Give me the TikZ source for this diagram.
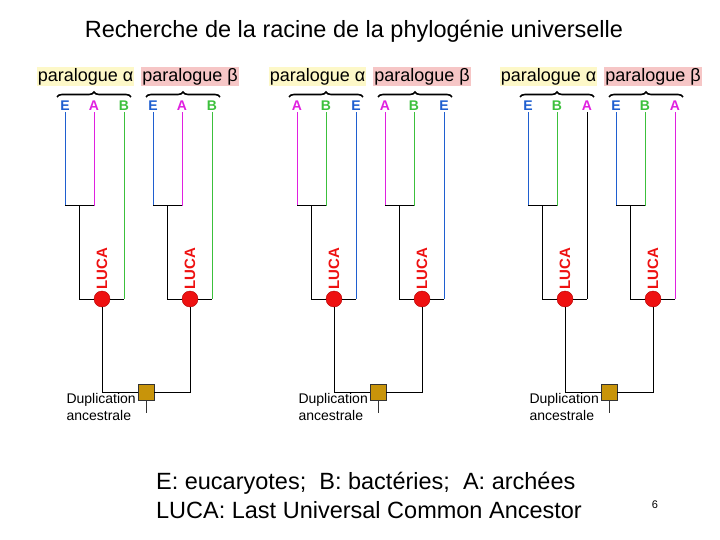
\documentclass[tikz,border=0pt]{standalone}
\usepackage{fontspec}
\setmainfont{Liberation Sans}
\usetikzlibrary{decorations.pathreplacing}
\definecolor{cE}{HTML}{1F5FD0}
\definecolor{cA}{HTML}{E020E0}
\definecolor{cB}{HTML}{3CC03C}
\definecolor{lucared}{HTML}{EE1111}
\definecolor{dupgold}{HTML}{C8940A}
\definecolor{ayel}{HTML}{FDF8C8}
\definecolor{bpink}{HTML}{F6C6C6}
\tikzset{
 leafl/.style={font=\bfseries\fontsize{14}{14}\selectfont,anchor=center,inner sep=1pt},
 para/.style={font=\fontsize{18}{18}\selectfont,inner sep=1pt,anchor=center,minimum height=19pt},
 blk/.style={draw=black,line width=1pt},
 luca/.style={circle,fill=lucared,draw=red!70!black,minimum size=16pt,inner sep=0},
 dup/.style={rectangle,fill=dupgold,draw=black!80,minimum size=16pt,inner sep=0},
 lucat/.style={font=\bfseries\fontsize{15}{15}\selectfont,text=lucared,rotate=90,anchor=west,inner sep=0},
 duptxt/.style={font=\fontsize{14}{17}\selectfont,align=left,anchor=north east,inner sep=0},
 br/.style={decorate,decoration={brace,amplitude=5pt},line width=1.6pt}
}
\begin{document}
\begin{tikzpicture}[x=1pt,y=-1pt]
\useasboundingbox (0,0) rectangle (720,540);
\node[font=\fontsize{23.5}{24}\selectfont,anchor=center] (title) at (354,31) {Recherche de la racine de la phylogénie universelle};
\foreach \t/\off/\la/\ca/\lla/\lb/\cb/\llb/\lc/\cc/\llc in {
 1/0/E/cE/cE/A/cA/cA/B/cB/cB,
 2/232/A/cA/cA/B/cB/cB/E/cE/cE,
 3/463/E/cE/cE/B/cB/cB/A/cA/black}{
 \begin{scope}[xshift=\off pt]
 \node[para,fill=ayel] (pa\t) at (85.5,77) {paralogue α};
 \node[para,fill=bpink] (pb\t) at (190,77) {paralogue β};
 \draw[br] (57,97) -- (131,97);
 \draw[br] (146,97) -- (220,97);
 \foreach \s/\x in {1/0,2/88}{
  \node[leafl,text=\ca] (e\t\s a) at (65+\x,106) {\la};
  \node[leafl,text=\cb] (e\t\s b) at (94+\x,106) {\lb};
  \node[leafl,text=\cc] (e\t\s c) at (124+\x,106) {\lc};
  \coordinate (j\t\s) at (79.5+\x,206);
  \node[luca] (L\t\s) at (102+\x,299) {};
  \node[lucat] at (102+\x,290) {LUCA};
  \draw[line width=1pt,draw=\lla] (e\t\s a.south) -- (65+\x,206);
  \draw[line width=1pt,draw=\llb] (e\t\s b.south) -- (94+\x,206);
  \draw[blk] (65+\x,206) -- (94+\x,206);
  \draw[blk] (j\t\s) -- (79.5+\x,299) -- (L\t\s.west);
  \draw[blk] (L\t\s.east) -- (124+\x,299);
 }
 \draw[line width=1pt,draw=\llc] (e\t1c.south) -- (124,299);
 \draw[line width=1pt,draw=\cc] (e\t2c.south) -- (212,299);
 \node[dup] (D\t) at (146,392) {};
 \draw[blk] (L\t1.south) -- (102,392) -- (D\t.west);
 \draw[blk] (D\t.east) -- (190,392) -- (L\t2.south);
 \draw[black!80,line width=0.8pt] (D\t.south) -- (146,413);
 \node[duptxt] (dt\t) at (136,393) {Duplication\\ancestrale};
 \end{scope}
}
\node[font=\fontsize{23.5}{29}\selectfont,align=left,anchor=center] (legend) at (369,495) {E: eucaryotes;\ \ B: bactéries;\ \ A: archées\\LUCA: Last Universal Common Ancestor};
\node[font=\fontsize{11}{11}\selectfont] (pg) at (655,505) {6};
\end{tikzpicture}
\end{document}
